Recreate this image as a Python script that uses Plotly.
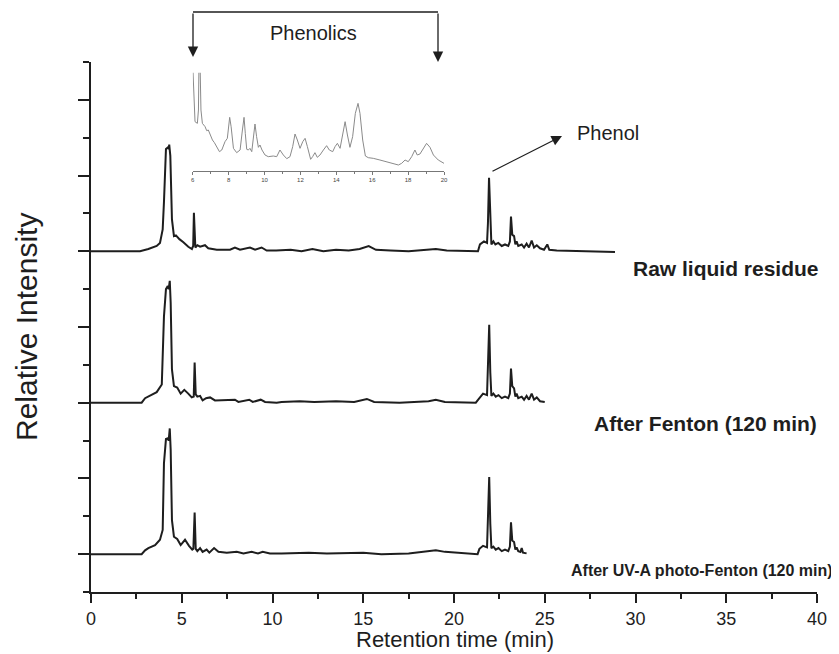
import plotly.graph_objects as go

# ---------------- data ----------------
raw_t = [0.0, 2.70, 3.16, 3.62, 3.80, 3.95, 4.02, 4.13, 4.23, 4.28, 4.31, 4.37, 4.46, 4.57, 4.68, 4.87,
         5.09, 5.36, 5.56, 5.63, 5.67, 5.71, 5.75, 5.86, 6.01, 6.28, 6.46, 6.93, 7.66, 7.93, 8.21, 8.76,
         9.04, 9.40, 9.68, 10.2, 11.0, 11.6, 12.2, 12.8, 13.5, 14.2, 14.8, 15.3, 15.7, 16.5, 17.5, 18.5,
         19.0, 19.6, 20.5, 21.32, 21.43, 21.65, 21.82, 21.87, 21.93, 22.0, 22.06, 22.17, 22.28, 22.44,
         22.63, 22.81, 22.99, 23.08, 23.14, 23.21, 23.31, 23.38, 23.45, 23.54, 23.73, 23.86, 24.0, 24.13,
         24.28, 24.41, 24.56, 24.74, 24.96, 25.14, 25.25, 25.66, 26.76, 28.87]
raw_i = [0.0, 0.0, 0.03, 0.07, 0.11, 0.29, 0.65, 1.35, 1.37, 1.35, 1.41, 1.26, 0.42, 0.20, 0.21, 0.16,
         0.12, 0.06, 0.03, 0.07, 0.51, 0.29, 0.05, 0.08, 0.06, 0.08, 0.04, 0.02, 0.02, 0.05, 0.02, 0.05,
         0.02, 0.05, 0.01, 0.01, 0.02, 0.0, 0.03, 0.0, 0.02, 0.01, 0.03, 0.07, 0.02, 0.01, 0.0, 0.02,
         0.03, 0.01, 0.0, 0.0, 0.09, 0.13, 0.11, 0.37, 0.97, 0.36, 0.09, 0.13, 0.09, 0.11,
         0.07, 0.09, 0.07, 0.13, 0.46, 0.22, 0.20, 0.09, 0.13, 0.07, 0.09, 0.05, 0.10, 0.05,
         0.14, 0.05, 0.08, 0.04, 0.02, 0.09, 0.02, 0.01, 0.0, -0.01]

fen_t = [0.0, 2.79, 2.98, 3.25, 3.62, 3.90, 4.02, 4.13, 4.23, 4.28, 4.34, 4.39, 4.46, 4.57, 4.75, 4.94,
         5.14, 5.36, 5.55, 5.66, 5.71, 5.77, 5.86, 6.01, 6.15, 6.34, 6.56, 6.83, 7.27, 7.93, 8.12, 8.72,
         8.91, 9.35, 9.59, 10.23, 10.5, 11.5, 12.3, 13.5, 14.5, 15.2, 15.6, 17.0, 18.6, 19.0, 19.5, 21.2,
         21.4, 21.6, 21.82, 21.88, 21.94, 22.0, 22.06, 22.17, 22.3, 22.45, 22.63, 22.81, 22.99, 23.08,
         23.14, 23.21, 23.31, 23.38, 23.45, 23.54, 23.73, 23.86, 24.0, 24.13, 24.28, 24.41, 24.56, 24.74,
         25.0]
fen_i = [0.0, 0.0, 0.06, 0.09, 0.14, 0.24, 1.14, 1.50, 1.54, 1.50, 1.61, 1.32, 0.44, 0.22, 0.20, 0.12,
         0.17, 0.12, 0.07, 0.08, 0.53, 0.11, 0.08, 0.09, 0.03, 0.06, 0.07, 0.03, 0.03, 0.04, 0.01, 0.04,
         0.01, 0.04, 0.01, 0.0, 0.01, 0.02, 0.01, 0.02, 0.01, 0.05, 0.01, 0.0, 0.02, 0.04, 0.01, 0.0,
         0.06, 0.12, 0.10, 0.45, 1.03, 0.40, 0.09, 0.12, 0.08, 0.10, 0.06, 0.08, 0.06, 0.12,
         0.45, 0.22, 0.19, 0.08, 0.12, 0.06, 0.08, 0.04, 0.09, 0.04, 0.12, 0.04, 0.07, 0.02,
         0.01]

uv_t = [0.0, 2.79, 2.98, 3.16, 3.53, 3.80, 3.95, 4.02, 4.13, 4.23, 4.28, 4.34, 4.39, 4.46, 4.57, 4.75,
        4.94, 5.18, 5.40, 5.58, 5.64, 5.71, 5.77, 5.86, 6.01, 6.15, 6.37, 6.52, 6.78, 7.02, 7.48, 8.03,
        8.40, 8.85, 9.20, 9.46, 9.86, 10.5, 12.0, 13.0, 15.0, 16.0, 17.5, 18.5, 19.0, 19.5, 20.5, 21.3,
        21.4, 21.6, 21.82, 21.88, 21.94, 22.0, 22.06, 22.17, 22.3, 22.45, 22.63, 22.81, 22.99, 23.08,
        23.14, 23.21, 23.31, 23.38, 23.45, 23.54, 23.66, 23.73, 23.80, 24.0]
uv_i = [0.0, 0.0, 0.05, 0.08, 0.12, 0.19, 0.32, 1.20, 1.52, 1.53, 1.50, 1.66, 1.38, 0.45, 0.23, 0.20,
        0.12, 0.19, 0.11, 0.06, 0.07, 0.55, 0.07, 0.04, 0.08, 0.03, 0.06, 0.02, 0.08, 0.03, 0.02, 0.03,
        0.01, 0.03, 0.01, 0.03, 0.01, 0.01, 0.02, 0.01, 0.02, 0.0, 0.01, 0.03, 0.05, 0.03, 0.01, 0.0,
        0.07, 0.11, 0.09, 0.45, 1.02, 0.40, 0.08, 0.10, 0.06, 0.08, 0.04, 0.06, 0.04, 0.10,
        0.42, 0.18, 0.16, 0.06, 0.09, 0.04, 0.03, 0.08, 0.02, 0.01]

# vertical offsets of the stacked chromatograms
series_names = ["Raw liquid residue", "After Fenton (120 min)", "After UV-A photo-Fenton (120 min)"]
series_offsets = [4.5, 2.5, 0.5]

# inset (zoom of 6-20 min of the raw residue)
inset_t = [6.00, 6.07, 6.13, 6.26, 6.32, 6.35, 6.41, 6.46, 6.54, 6.69, 6.78, 6.87, 6.97, 7.10, 7.21,
           7.34, 7.49, 7.62, 7.80, 7.93, 8.01, 8.06, 8.14, 8.27, 8.45, 8.64, 8.77, 8.86, 8.93, 9.01,
           9.10, 9.19, 9.29, 9.38, 9.47, 9.56, 9.66, 9.75, 9.86, 10.03, 10.21, 10.49, 10.68, 10.86,
           11.05, 11.24, 11.42, 11.57, 11.70, 11.83, 11.98, 12.13, 12.26, 12.39, 12.57, 12.68, 12.81,
           12.94, 13.09, 13.28, 13.46, 13.61, 13.80, 13.93, 14.06, 14.21, 14.36, 14.49, 14.62, 14.76,
           14.91, 15.06, 15.21, 15.32, 15.47, 15.62, 15.78, 16.06, 16.43, 16.81, 17.18, 17.46, 17.64,
           17.83, 18.01, 18.20, 18.38, 18.51, 18.66, 18.85, 19.03, 19.22, 19.41, 19.68, 20.00]
inset_i = [3.20, 1.83, 1.48, 1.43, 1.83, 3.20, 3.20, 1.83, 1.43, 1.33, 1.21, 1.23, 1.08, 0.93, 0.85,
           0.73, 0.58, 0.63, 0.88, 0.98, 1.33, 1.61, 1.33, 0.68, 0.55, 0.63, 1.23, 1.61, 1.13, 0.65,
           0.63, 0.68, 0.58, 0.93, 1.41, 1.03, 0.71, 0.78, 0.63, 0.48, 0.43, 0.45, 0.43, 0.63,
           0.48, 0.37, 0.43, 0.73, 1.11, 0.93, 0.68, 0.88, 0.98, 0.73, 0.35, 0.43, 0.55,
           0.41, 0.48, 0.63, 0.76, 0.63, 0.58, 0.73, 0.83, 0.68, 1.13, 1.48, 1.08, 0.71,
           1.03, 1.73, 2.03, 1.73, 0.93, 0.45, 0.40, 0.38, 0.33, 0.28, 0.21, 0.18, 0.23,
           0.33, 0.28, 0.43, 0.63, 0.48, 0.51, 0.68, 0.83, 0.71, 0.48, 0.33, 0.23]

x_ticks = [0, 5, 10, 15, 20, 25, 30, 35, 40]
inset_ticks = [6, 8, 10, 12, 14, 16, 18, 20]

# ---------------- layout helpers ----------------
# the page body has an 8 px margin, so the figure is drawn 8 px smaller
OFF = 8
W, H = 839 - OFF, 654 - OFF
PL, PR, PT, PB = 91, 817, 62, 592          # plot area in screen pixels
L, T = PL - OFF, PT - OFF
R = W - (PR - OFF)
B = H - (PB - OFF)
PW, PH = PR - PL, PB - PT


def px(x):
    return (x - PL) / PW


def py(y):
    return (PB - y) / PH


FONT = "Arial, 'Liberation Sans', Helvetica, sans-serif"
INK = "#1e1e1e"

fig = go.Figure()
for (t, i), off in zip([(raw_t, raw_i), (fen_t, fen_i), (uv_t, uv_i)], series_offsets):
    fig.add_trace(go.Scatter(x=t, y=[v + off for v in i], mode="lines",
                             line=dict(color=INK, width=2), showlegend=False,
                             hoverinfo="skip"))

fig.add_trace(go.Scatter(x=inset_t, y=inset_i, mode="lines", xaxis="x2", yaxis="y2",
                         line=dict(color="#8a8a8a", width=1), showlegend=False,
                         hoverinfo="skip"))

fig.update_layout(
    width=W, height=H,
    margin=dict(l=L, r=R, t=T, b=B),
    paper_bgcolor="white", plot_bgcolor="white",
    font=dict(family=FONT, color=INK),
    xaxis=dict(range=[0, 40], tickvals=x_ticks, ticks="outside", ticklen=9, tickwidth=2,
               tickcolor=INK, showline=True, linecolor=INK, linewidth=2, showgrid=False,
               zeroline=False, tickfont=dict(size=18, color=INK),
               minor=dict(dtick=2.5, tick0=0, ticks="outside", ticklen=5, tickwidth=2,
                          tickcolor=INK, showgrid=False)),
    yaxis=dict(range=[0, 7], tick0=0.5, dtick=1, ticks="outside", ticklen=11, tickwidth=2,
               tickcolor=INK, showline=True, linecolor=INK, linewidth=2, showgrid=False,
               zeroline=False, showticklabels=False,
               minor=dict(dtick=0.5, tick0=0, ticks="outside", ticklen=6, tickwidth=2,
                          tickcolor=INK, showgrid=False)),
    xaxis2=dict(domain=[px(192.7), px(444)], anchor="y2", range=[6, 20], tickvals=inset_ticks,
                ticks="outside", ticklen=3, tickwidth=1, tickcolor="#777", showline=True,
                linecolor="#777", linewidth=1, showgrid=False, zeroline=False,
                tickfont=dict(size=6, color="#444"),
                minor=dict(dtick=1, tick0=6, ticks="outside", ticklen=2, tickwidth=1,
                           tickcolor="#777", showgrid=False)),
    yaxis2=dict(domain=[py(171), py(72.7)], anchor="x2", range=[0, 2.95], visible=False),
)


def text_ann(text, x, y, size, anchor="center", angle=0):
    return dict(text=text, x=px(x), y=py(y), xref="paper", yref="paper", xanchor=anchor,
                yanchor="middle", textangle=angle, showarrow=False,
                font=dict(size=size, color=INK))


ann = []
ann.append(text_ann("Relative Intensity", 26, 327, 30, angle=-90))
ann.append(text_ann("Retention time (min)", 455, 639, 22))
label_pos = [(821, 268, 21), (819, 423, 21), (835, 570, 16)]
for name, (lx, ly, sz) in zip(series_names, label_pos):
    ann.append(text_ann("<b>" + name + "</b>", lx, ly, sz, anchor="right"))
ann.append(text_ann("Phenolics", 313, 33, 20))
for bx, by in [(193, 57), (438, 62)]:
    ann.append(dict(text="", x=px(bx), y=py(by), xref="paper", yref="paper", showarrow=True,
                    ax=0, ay=-(by - 12), arrowhead=2, arrowsize=1.6, arrowwidth=1.3,
                    arrowcolor=INK))
ann.append(dict(text="", x=px(562), y=py(136), xref="paper", yref="paper", showarrow=True,
                ax=-71, ay=36, arrowhead=2, arrowsize=1.6, arrowwidth=1.3, arrowcolor=INK))
ann.append(text_ann("Phenol", 608, 133, 20))
fig.update_layout(annotations=ann)

fig.add_shape(type="line", xref="paper", yref="paper", x0=px(193), x1=px(438), y0=py(12),
              y1=py(12), line=dict(color=INK, width=1.3))

fig.write_html("out.html")
